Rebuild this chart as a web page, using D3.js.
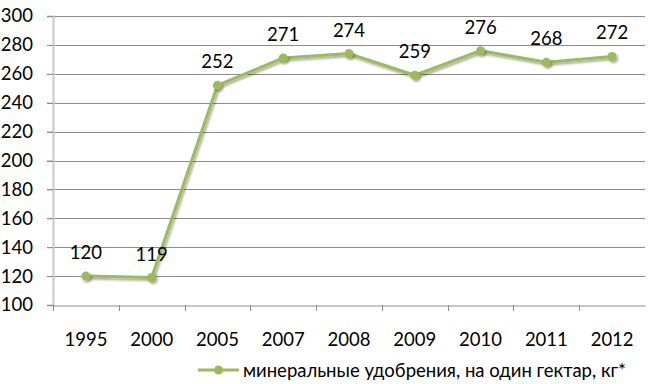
<!DOCTYPE html>
<html>
<head>
<meta charset="utf-8">
<script src="https://cdn.jsdelivr.net/npm/d3@7"></script>
<style>
  body { margin: 0; background: #fff; }
  text { font-family: Lato, "Open Sans", sans-serif; }
</style>
</head>
<body>
<div id="chart"></div>
<script>
const years = ['1995', '2000', '2005', '2007', '2008', '2009', '2010', '2011', '2012'];
const values = [120, 119, 252, 271, 274, 259, 276, 268, 272];
const yTicks = [100, 120, 140, 160, 180, 200, 220, 240, 260, 280, 300];
const seriesName = 'минеральные удобрения, на один гектар, кг*';

const width = 650, height = 384;
const margin = { top: 16, right: 5, bottom: 79, left: 53 };
const color = '#9bbb59';
const fontSize = '18.5px';

const svg = d3.select('#chart').append('svg')
  .attr('width', width)
  .attr('height', height);

const defs = svg.append('defs');
const f = defs.append('filter').attr('id', 'shadow')
  .attr('x', '-50%').attr('y', '-50%').attr('width', '200%').attr('height', '200%');
f.append('feDropShadow').attr('dx', 1.5).attr('dy', 2).attr('stdDeviation', 1.2)
  .attr('flood-color', '#000').attr('flood-opacity', 0.35);

const x = d3.scaleBand()
  .domain(years)
  .range([margin.left, width - margin.right]);

const y = d3.scaleLinear()
  .domain([100, 300])
  .range([height - margin.bottom, margin.top]);

// gridlines
svg.append('g')
  .selectAll('line')
  .data(yTicks.filter(d => d > 100))
  .enter()
  .append('line')
  .attr('x1', margin.left - 6)
  .attr('x2', width - margin.right)
  .attr('y1', d => Math.round(y(d)) + 0.5)
  .attr('y2', d => Math.round(y(d)) + 0.5)
  .attr('stroke', '#8c8c8c')
  .attr('stroke-width', 1);

// y axis
const yAxis = svg.append('g')
  .attr('transform', 'translate(' + margin.left + ',0)')
  .call(d3.axisLeft(y).tickValues(yTicks).tickSize(6).tickPadding(14));
yAxis.select('.domain').attr('stroke', '#c8c8c8').attr('stroke-width', 2);
yAxis.selectAll('.tick line').attr('stroke', '#8c8c8c');
yAxis.selectAll('.tick text').attr('font-size', fontSize).attr('fill', '#000');

// x axis
const bottom = height - margin.bottom;
const xAxis = svg.append('g')
  .attr('transform', 'translate(0,' + (Math.round(bottom) + 0.5) + ')')
  .call(d3.axisBottom(x).tickSize(0).tickPadding(27));
xAxis.select('.domain').attr('stroke', '#8c8c8c');
xAxis.selectAll('.tick text').attr('font-size', fontSize).attr('fill', '#000');

// x tick marks between categories
svg.append('g')
  .selectAll('line')
  .data(years)
  .enter()
  .append('line')
  .attr('x1', d => Math.round(x(d)) + 0.5)
  .attr('x2', d => Math.round(x(d)) + 0.5)
  .attr('y1', bottom)
  .attr('y2', bottom + 6)
  .attr('stroke', '#8c8c8c');

const data = years.map((d, i) => ({ year: d, value: values[i] }));
const cx = d => x(d.year) + x.bandwidth() / 2;

const line = d3.line()
  .x(cx)
  .y(d => y(d.value));

svg.append('path')
  .datum(data)
  .attr('d', line)
  .attr('fill', 'none')
  .attr('stroke', color)
  .attr('stroke-width', 3)
  .attr('stroke-linejoin', 'round')
  .attr('filter', 'url(#shadow)');

svg.selectAll('.pt')
  .data(data)
  .enter()
  .append('circle')
  .attr('cx', cx)
  .attr('cy', d => y(d.value))
  .attr('r', 4.5)
  .attr('fill', color)
  .attr('filter', 'url(#shadow)');

svg.selectAll('.lbl')
  .data(data)
  .enter()
  .append('text')
  .attr('x', cx)
  .attr('y', d => y(d.value) - 17)
  .attr('text-anchor', 'middle')
  .attr('font-size', fontSize)
  .attr('fill', '#000')
  .text(d => d.value);

// legend
const lg = svg.append('g').attr('transform', 'translate(198,370)');
lg.append('line')
  .attr('x1', 0).attr('x2', 41).attr('y1', 0).attr('y2', 0)
  .attr('stroke', color).attr('stroke-width', 3);
lg.append('circle').attr('cx', 20.5).attr('cy', 0).attr('r', 4.5).attr('fill', color);
lg.append('text')
  .attr('x', 45).attr('y', 7)
  .attr('font-size', fontSize)
  .attr('fill', '#000')
  .text(seriesName);
</script>
</body>
</html>
